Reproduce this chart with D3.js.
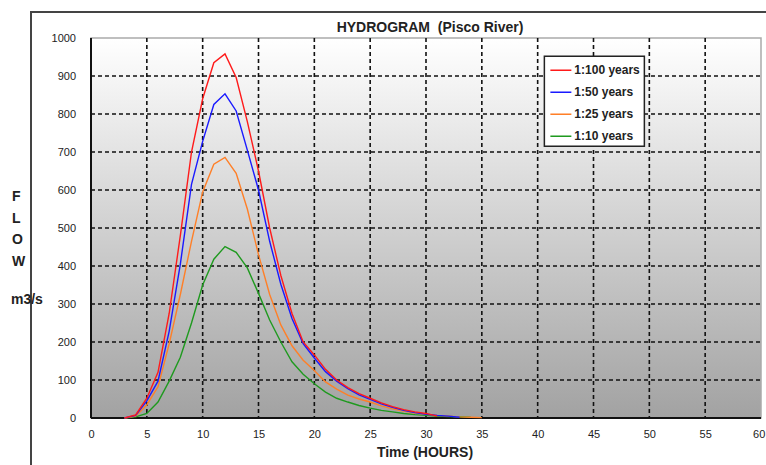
<!DOCTYPE html>
<html>
<head>
<meta charset="utf-8">
<script src="https://cdn.jsdelivr.net/npm/d3@7"></script>
<style>
body { margin: 0; background: #fff; }
text { font-family: "Liberation Sans", Arial, sans-serif; }
</style>
</head>
<body>
<div id="chart"></div>
<script>
// hours for each sample
let hours = d3.range(3, 36);

let rp100 = [0, 8, 52, 120, 275, 480, 700, 840, 935, 958, 896, 780, 650, 500, 375, 275, 200, 166, 128, 100, 80, 64, 52, 40, 30, 22, 16, 12, 5];
let rp50 = [0, 7, 45, 97, 228, 405, 615, 728, 825, 853, 808, 705, 600, 465, 352, 262, 196, 158, 122, 97, 77, 61, 49, 37, 28, 20, 14, 10, 7, 5, 2];
let rp25 = [0, 5, 35, 82, 195, 325, 465, 595, 668, 686, 644, 550, 430, 325, 245, 190, 152, 125, 95, 76, 60, 50, 42, 32, 24, 18, 13, 10, 7, 5, 3, 2, 1];
let rp10 = [0, 3, 12, 42, 97, 160, 250, 350, 418, 451, 436, 395, 328, 258, 200, 148, 115, 90, 68, 52, 42, 33, 26, 20, 16, 12, 9, 7, 5, 4, 3, 2];

let seriesNames = ["1:100 years", "1:50 years", "1:25 years", "1:10 years"];
let seriesColors = ["#ff1a1a", "#1a1aff", "#ff7f27", "#1f9a1f"];
let xTicks = d3.range(0, 61, 5);
let yTicks = d3.range(0, 1001, 100);

let series = [rp100, rp50, rp25, rp10];

let margin = { top: 38, right: 5, bottom: 47, left: 91 };
let width = 766 - margin.left - margin.right,
    height = 465 - margin.top - margin.bottom;

let root = d3.select("#chart").append("svg")
    .attr("width", 766)
    .attr("height", 465);

// outer frame
root.append("rect")
    .attr("x", 31)
    .attr("y", 12)
    .attr("width", 760)
    .attr("height", 480)
    .style("fill", "none")
    .style("stroke", "#444")
    .style("stroke-width", 2);

let defs = root.append("defs");
let grad = defs.append("linearGradient")
    .attr("id", "bg")
    .attr("x1", 0).attr("y1", 0)
    .attr("x2", 0).attr("y2", 1);
grad.append("stop").attr("offset", "0%").attr("stop-color", "#ffffff");
grad.append("stop").attr("offset", "100%").attr("stop-color", "#a2a2a2");

let svg = root.append("g")
    .attr("transform", "translate(" + margin.left + "," + margin.top + ")");

let x = d3.scaleLinear()
    .domain([0, 60])
    .range([0, width]);

let y = d3.scaleLinear()
    .domain([0, 1000])
    .range([height, 0]);

svg.append("rect")
    .attr("width", width)
    .attr("height", height)
    .style("fill", "url(#bg)")
    .style("stroke", "#aaa")
    .style("stroke-width", 1.5);

// grid
svg.selectAll(".hgrid")
    .data(yTicks.filter(d => d > 0 && d < 1000))
    .enter().append("line")
    .attr("class", "hgrid")
    .attr("x1", 0)
    .attr("x2", width)
    .attr("y1", d => y(d))
    .attr("y2", d => y(d))
    .style("stroke", "#111")
    .style("stroke-width", 1.6)
    .style("stroke-dasharray", "4,3");

svg.selectAll(".vgrid")
    .data(xTicks.filter(d => d > 0 && d < 60))
    .enter().append("line")
    .attr("class", "vgrid")
    .attr("x1", d => x(d))
    .attr("x2", d => x(d))
    .attr("y1", 0)
    .attr("y2", height)
    .style("stroke", "#111")
    .style("stroke-width", 1.6)
    .style("stroke-dasharray", "4,3");

// axes
let xAxis = d3.axisBottom(x).tickValues(xTicks).tickSize(0).tickPadding(12).tickFormat(d3.format("d"));
let yAxis = d3.axisLeft(y).tickValues(yTicks).tickSize(0).tickPadding(15).tickFormat(d3.format("d"));

svg.append("g")
    .attr("class", "x-axis axis")
    .attr("transform", "translate(0," + height + ")")
    .call(xAxis);
svg.append("g")
    .attr("class", "y-axis axis")
    .call(yAxis);

svg.selectAll(".axis text")
    .style("font-size", "11px")
    .style("fill", "#222")
    .style("font-family", "'Liberation Sans', Arial, sans-serif");
svg.selectAll(".axis path").remove();

// last x label sits on the window edge, pull it in a little
svg.selectAll(".x-axis .tick text")
    .filter(d => d === 60)
    .attr("text-anchor", "end")
    .attr("dx", "0.35em");

svg.append("line")
    .attr("x1", 0).attr("x2", width)
    .attr("y1", height).attr("y2", height)
    .style("stroke", "#111").style("stroke-width", 2);
svg.append("line")
    .attr("x1", 0).attr("x2", 0)
    .attr("y1", 0).attr("y2", height)
    .style("stroke", "#111").style("stroke-width", 2);

// curves
let line = d3.line()
    .x((d, i) => x(hours[i]))
    .y(d => y(d));

series.slice().reverse().forEach(function(s, k) {
    let i = series.length - 1 - k;
    svg.append("path")
        .datum(s)
        .attr("d", line)
        .style("fill", "none")
        .style("stroke", seriesColors[i])
        .style("stroke-width", 1.4);
});

// legend
let legend = svg.append("g")
    .attr("transform", "translate(" + (x(40.6)) + "," + y(952) + ")");
legend.append("rect")
    .attr("width", 100)
    .attr("height", 90)
    .style("fill", "#fff")
    .style("stroke", "#222")
    .style("stroke-width", 1.5);
seriesNames.forEach(function(name, i) {
    let ly = 14 + i * 22;
    legend.append("line")
        .attr("x1", 6).attr("x2", 27)
        .attr("y1", ly).attr("y2", ly)
        .style("stroke", seriesColors[i])
        .style("stroke-width", 1.5);
    legend.append("text")
        .attr("x", 30)
        .attr("y", ly + 4)
        .style("font-size", "12px")
        .style("font-weight", "bold")
        .style("fill", "#222")
        .text(name);
});

// titles
root.append("text")
    .attr("x", 430)
    .attr("y", 32)
    .style("text-anchor", "middle")
    .style("font-size", "14px")
    .style("font-weight", "bold")
    .style("fill", "#222")
    .style("white-space", "pre")
    .text("HYDROGRAM  (Pisco River)");

root.append("text")
    .attr("x", 425)
    .attr("y", 457)
    .style("text-anchor", "middle")
    .style("font-size", "14px")
    .style("font-weight", "bold")
    .style("fill", "#222")
    .text("Time (HOURS)");

let flow = ["F", "L", "O", "W"];
flow.forEach(function(c, i) {
    root.append("text")
        .attr("x", 12)
        .attr("y", 201 + i * 21.5)
        .style("font-size", "14px")
        .style("font-weight", "bold")
        .style("fill", "#222")
        .text(c);
});
root.append("text")
    .attr("x", 11)
    .attr("y", 304)
    .style("font-size", "14px")
    .style("font-weight", "bold")
    .style("fill", "#222")
    .text("m3/s");
</script>
</body>
</html>
